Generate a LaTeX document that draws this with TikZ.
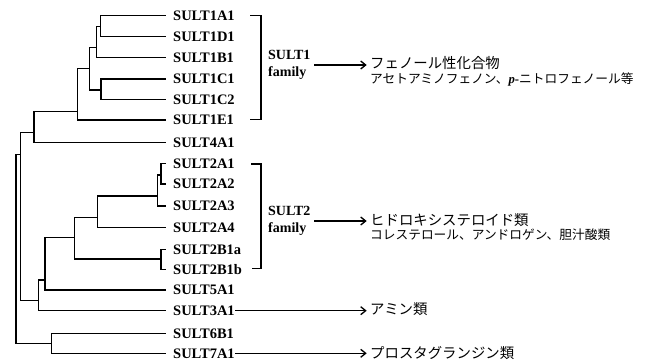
\documentclass[tikz,border=0pt]{standalone}
\usepackage{fontspec}
\setmainfont{Liberation Serif}
\newfontfamily\jpfont{Noto Sans CJK JP}
\usetikzlibrary{arrows.meta}
\begin{document}
\begin{tikzpicture}[x=1pt,y=-1pt,
  edge/.style={line width=1.3pt},
  leaf/.style={anchor=west, inner sep=0pt, font=\fontsize{14.5}{17}\selectfont\bfseries},
  fam/.style={anchor=west, inner sep=0pt, align=left, font=\fontsize{14}{16.6}\selectfont\bfseries},
  jpbig/.style={anchor=west, inner sep=0pt, font=\jpfont\fontsize{14.4}{16}\selectfont},
  jpsmall/.style={anchor=west, inner sep=0pt, font=\jpfont\fontsize{12.7}{15}\selectfont},
  arr/.style={line width=1.3pt, -{Straight Barb[length=5pt,width=8pt]}},
]
\useasboundingbox (0,0) rectangle (649,364);
% leaves
\foreach \n/\t/\y in {a1/SULT1A1/15.7, d1/SULT1D1/36.3, b1/SULT1B1/57.3, c1/SULT1C1/79,
  c2/SULT1C2/99.3, e1/SULT1E1/120, f4/SULT4A1/142.7, ta1/SULT2A1/163.3, ta2/SULT2A2/184,
  ta3/SULT2A3/206, ta4/SULT2A4/227.7, tba/SULT2B1a/249.3, tbb/SULT2B1b/269.3,
  s5/SULT5A1/290, s3/SULT3A1/310.7, s6/SULT6B1/333.3, s7/SULT7A1/353.3}
  \node[leaf] (\n) at (173,\y) {\t};
% internal nodes
\coordinate (n1) at (100.3,26.7);
\coordinate (n2) at (96.7,47.7);
\coordinate (n3) at (101,90);
\coordinate (n4) at (89.3,68.3);
\coordinate (n5) at (77.3,111.7);
\coordinate (n6) at (34,132.7);
\coordinate (n7) at (161,175);
\coordinate (n8) at (157.3,196);
\coordinate (n9) at (97.7,217.3);
\coordinate (n10) at (161,259);
\coordinate (n11) at (74.3,237.3);
\coordinate (n12) at (45,280);
\coordinate (n13) at (38.3,300.7);
\coordinate (n14) at (20.7,154.3);
\coordinate (n15) at (51.7,343.3);
\coordinate (root) at (16,250);
% leaf edges
\foreach \p/\c in {n1/a1, n1/d1, n2/b1, n3/c1, n3/c2, n5/e1, n6/f4, n7/ta1, n7/ta2,
  n8/ta3, n9/ta4, n10/tba, n10/tbb, n12/s5, n13/s3, n15/s6, n15/s7}
  \draw[edge, shorten >=7.3pt] (\p) |- (\c.west);
% internal edges
\foreach \p/\c in {n2/n1, n4/n2, n4/n3, n5/n4, n6/n5, n8/n7, n9/n8, n11/n9, n11/n10,
  n12/n11, n13/n12, n14/n6, n14/n13, root/n14, root/n15}
  \draw[edge] (\p) |- (\c);
% brackets
\draw[edge] (250,15.7) -- (261,15.7) -- (261,119.5) -- (250,119.5);
\draw[edge] (251,164) -- (261,164) -- (261,268.5) -- (252,268.5);
% family labels
\node[fam] (fam1) at (268,65) {SULT1\\family};
\node[fam] (fam2) at (268,221) {SULT2\\family};
% substrates
\node[jpbig] (jp1) at (370,62.7) {フェノール性化合物};
\node[jpsmall] (jp1b) at (370,79.5) {アセトアミノフェノン、{\rmfamily\bfseries\itshape p}{\rmfamily\bfseries -}ニトロフェノール等};
\node[jpbig] (jp2) at (370,220.5) {ヒドロキシステロイド類};
\node[jpsmall] (jp2b) at (370,235) {コレステロール、アンドロゲン、胆汁酸類};
\node[jpbig] (amine) at (370,309.5) {アミン類};
\node[jpbig] (pg) at (370,353) {プロスタグランジン類};
% arrows
\draw[arr, shorten <=3.4pt, shorten >=3.3pt] (fam1.east) -- (fam1.east -| jp1.west);
\draw[arr, shorten <=3.4pt, shorten >=3.3pt] (fam2.east) -- (fam2.east -| jp2.west);
\draw[arr, shorten <=0.5pt, shorten >=3.3pt] (s3.east) -- (s3.east -| amine.west);
\draw[arr, shorten <=0.5pt, shorten >=3.3pt] (s7.east) -- (s7.east -| pg.west);
\end{tikzpicture}
\end{document}
